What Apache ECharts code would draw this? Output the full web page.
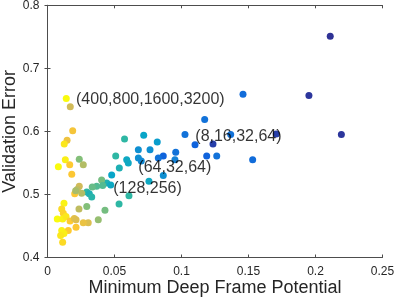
<!DOCTYPE html>
<html>
<head>
<meta charset="utf-8">
<script src="https://cdn.jsdelivr.net/npm/echarts@6/dist/echarts.min.js"></script>
<style>html,body{margin:0;padding:0;background:#fff;}#c{width:398px;height:307px;}</style>
</head>
<body>
<div id="c"></div>
<script>
// Data: minimum deep frame potential (x), validation error (y), colour value (0 = dark blue, 1 = yellow)
var xVals = [0.2110,0.1951,0.2193,0.1707,0.1459,0.1531,0.1367,0.1173,0.1235,0.1188,
             0.1263,0.1026,0.1101,0.0957,0.0951,0.0864,0.0827,0.0864,0.0757,0.0819,
             0.0718,0.0575,0.0765,0.0678,0.0678,0.0700,0.0591,0.0603,0.0509,0.0536,
             0.0479,0.0442,0.0404,0.0472,0.0412,0.0367,0.0334,0.0293,0.0312,0.0330,
             0.0255,0.0203,0.0237,0.0222,0.0210,0.0608,0.0534,0.0429,0.0379,0.0304,
             0.0267,0.0293,0.0235,0.0123,0.0106,0.0118,0.0073,0.0113,0.0138,0.0168,
             0.0200,0.0213,0.0213,0.0155,0.0106,0.0123,0.0098,0.0113,0.0140,0.0170,
             0.0188,0.0146,0.0125,0.0237,0.0267,0.0133,0.0166,0.0081,0.0181];
var yVals = [0.751,0.657,0.595,0.596,0.659,0.555,0.595,0.619,0.580,0.561,
             0.561,0.595,0.579,0.567,0.555,0.561,0.558,0.530,0.521,0.583,
             0.594,0.588,0.571,0.571,0.558,0.553,0.555,0.550,0.561,0.542,
             0.531,0.518,0.523,0.515,0.514,0.513,0.512,0.504,0.501,0.496,
             0.502,0.501,0.513,0.508,0.506,0.498,0.485,0.475,0.460,0.455,
             0.455,0.481,0.477,0.486,0.477,0.470,0.461,0.461,0.465,0.458,
             0.462,0.460,0.448,0.443,0.443,0.438,0.435,0.424,0.652,0.639,
             0.601,0.586,0.580,0.556,0.547,0.555,0.547,0.544,0.532];
var colorVals = [0.02,0.03,0.03,0.05,0.18,0.18,0.20,0.20,0.05,0.15,
                 0.20,0.20,0.15,0.20,0.25,0.15,0.20,0.30,0.40,0.35,
                 0.38,0.50,0.30,0.30,0.30,0.28,0.40,0.40,0.50,0.45,
                 0.38,0.45,0.60,0.40,0.55,0.55,0.58,0.50,0.45,0.48,
                 0.70,0.87,0.75,0.72,0.68,0.50,0.50,0.60,0.65,0.78,
                 0.82,0.62,0.72,0.98,0.92,0.90,1.00,0.98,0.95,0.88,
                 0.80,0.78,0.87,0.88,0.98,0.97,0.95,0.92,1.00,0.75,
                 0.85,0.83,0.95,0.62,0.70,0.97,0.88,1.00,0.87];

// Annotations
var noteTexts = ['(400,800,1600,3200)','(8,16,32,64)','(64,32,64)','(128,256)'];
var noteX = [0.0213,0.1103,0.0678,0.0491];
var noteY = [0.6498,0.5916,0.5431,0.5087];

var xTicks = [0,0.05,0.1,0.15,0.2,0.25];
var yTicks = [0.4,0.5,0.6,0.7,0.8];

var parula = ['#352a87','#0f5cdd','#1481d6','#06a4ca','#2eb7a4','#87bf77','#d1bb59','#fec832','#f9fb0e'];

var pts = xVals.map(function(x,i){return [x,yVals[i],colorVals[i]];});
var notes = noteTexts.map(function(t,i){return {name:t,value:[noteX[i],noteY[i]]};});

var axisColor = '#4d4d4d';
var font = 'Liberation Sans, Arial, Helvetica, sans-serif';

var chart = echarts.init(document.getElementById('c'), null, {renderer:'canvas'});
chart.setOption({
  animation:false,
  backgroundColor:'#fff',
  grid:{left:47.5,right:15.5,top:5.3,bottom:49.5,containLabel:false,outerBoundsMode:'none'},
  xAxis:[{
    type:'value',min:xTicks[0],max:xTicks[xTicks.length-1],interval:0.05,
    name:'Minimum Deep Frame Potential',nameLocation:'middle',nameGap:22,nameMoveOverlap:false,
    nameTextStyle:{fontFamily:font,fontSize:18,color:'#262626'},
    axisLine:{show:true,onZero:false,lineStyle:{color:axisColor,width:1}},
    axisTick:{show:true,inside:true,length:3,lineStyle:{color:axisColor}},
    axisLabel:{fontFamily:font,fontSize:12,color:'#262626',margin:8,
      formatter:function(v){return String(+v.toFixed(2));}},
    splitLine:{show:false}
  },{
    type:'value',position:'top',min:xTicks[0],max:xTicks[xTicks.length-1],interval:0.05,
    axisLine:{show:true,lineStyle:{color:axisColor,width:1}},
    axisTick:{show:true,inside:true,length:3,lineStyle:{color:axisColor}},
    axisLabel:{show:false},splitLine:{show:false}
  }],
  yAxis:[{
    type:'value',min:yTicks[0],max:yTicks[yTicks.length-1],interval:0.1,
    name:'Validation Error',nameLocation:'middle',nameGap:28,nameMoveOverlap:false,
    nameTextStyle:{fontFamily:font,fontSize:18,color:'#262626'},
    axisLine:{show:true,onZero:false,lineStyle:{color:axisColor,width:1}},
    axisTick:{show:true,inside:true,length:3,lineStyle:{color:axisColor}},
    axisLabel:{fontFamily:font,fontSize:12,color:'#262626',margin:8,
      formatter:function(v){return String(+v.toFixed(1));}},
    splitLine:{show:false}
  },{
    type:'value',position:'right',min:yTicks[0],max:yTicks[yTicks.length-1],interval:0.1,
    axisLine:{show:true,lineStyle:{color:axisColor,width:1}},
    axisTick:{show:true,inside:true,length:3,lineStyle:{color:axisColor}},
    axisLabel:{show:false},splitLine:{show:false}
  }],
  visualMap:{show:false,type:'continuous',dimension:2,min:0,max:1,seriesIndex:0,
    inRange:{color:parula}},
  series:[{
    type:'scatter',xAxisIndex:0,yAxisIndex:0,symbolSize:7,data:pts,
    itemStyle:{opacity:1}
  },{
    type:'scatter',xAxisIndex:0,yAxisIndex:0,symbolSize:0,data:notes,
    label:{show:true,position:'right',distance:0,formatter:'{b}',
      fontFamily:font,fontSize:16,color:'#000'},
    itemStyle:{color:'rgba(0,0,0,0)'},silent:true,z:5
  }]
});
</script>
</body>
</html>
